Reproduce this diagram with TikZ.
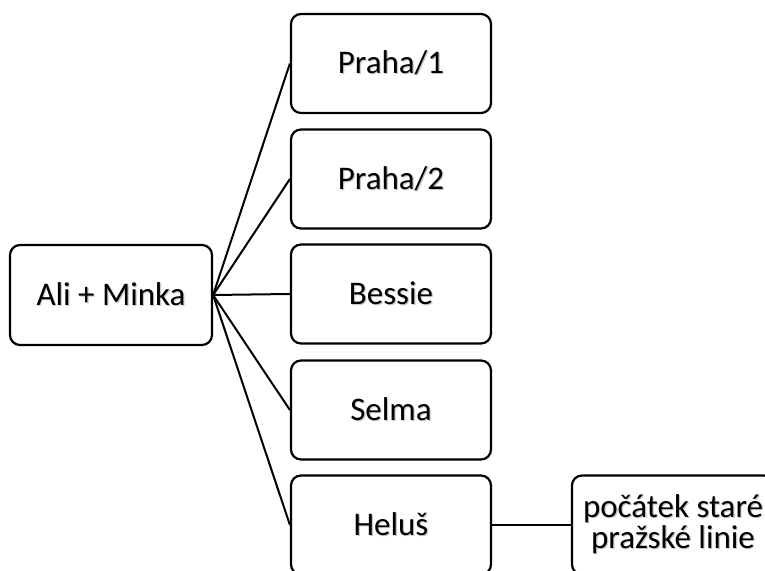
\documentclass[tikz,border=0pt]{standalone}
\usepackage{fontspec}
\setmainfont{Carlito}
% text with a soft grey drop shadow
\newcommand\shtext[1]{\leavevmode\rlap{\hspace{1.2pt}\raisebox{-1.2pt}{\color{black!22}#1}}#1}
\tikzset{
  card/.style={draw=black, line width=2.2pt, rounded corners=10pt, fill=white,
    minimum width=200pt, minimum height=99pt, inner sep=0pt, align=center,
    font=\fontsize{33}{31}\selectfont},
  link/.style={draw=black, line width=2pt}
}
\begin{document}
\begin{tikzpicture}[x=1pt,y=1pt]
  \useasboundingbox (0,0) rectangle (765,570);
  \clip (0,0) rectangle (765,570);
  \fill[white] (0,0) rectangle (765,570);

  \node[card, minimum width=202pt, minimum height=100pt] (ali) at (111,275) {\shtext{Ali + Minka}};
  \node[card] (p1) at (391,506.5) {\shtext{Praha/1}};
  \node[card] (p2) at (391,391) {\shtext{Praha/2}};
  \node[card] (bessie) at (391,276) {\shtext{Bessie}};
  \node[card] (selma) at (391,160) {\shtext{Selma}};
  \node[card] (helus) at (391,45) {\shtext{Heluš}};
  \node[card, minimum width=202pt] (start) at (673,45) {\shtext{počátek staré}\\\shtext{pražské linie}};

  \foreach \n in {p1,p2,bessie,selma,helus}
    \draw[link] (ali.east) -- (\n.west);
  \draw[link] (helus.east) -- (start.west);
\end{tikzpicture}
\end{document}
